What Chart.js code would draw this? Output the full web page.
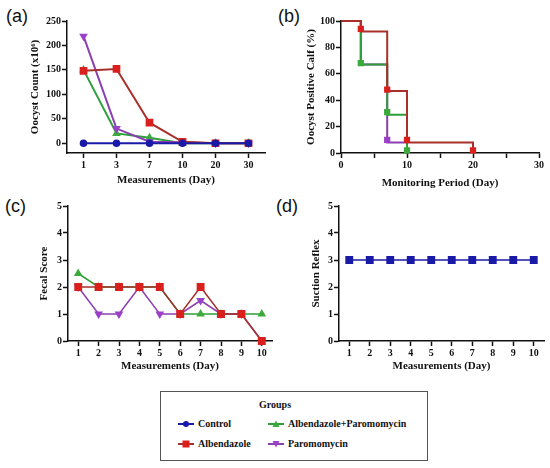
<!DOCTYPE html>
<html>
<head>
<meta charset="utf-8">
<script src="https://cdn.jsdelivr.net/npm/chart.js@4.4.1/dist/chart.umd.min.js"></script>
<style>
    body { margin: 0; background: #fff; width: 550px; height: 468px; position: relative; overflow: hidden; }
    .panel { position: absolute; }
    .tag { position: absolute; font-family: "Liberation Sans", Arial, sans-serif; font-size: 18px; line-height: 18px; color: #111; }
    #legend { position: absolute; left: 160px; top: 391px; width: 266px; height: 68px; border: 1.5px solid #555;
              font-family: "Liberation Serif", "Times New Roman", serif; font-weight: bold; font-size: 10px; color: #111; }
    #legend div { position: absolute; white-space: nowrap; line-height: 12px; }
    #legend svg { position: absolute; }
</style>
</head>
<body>

<div class="tag" style="left:6px;top:7px">(a)</div>
<div class="tag" style="left:278px;top:7px">(b)</div>
<div class="tag" style="left:5px;top:197px">(c)</div>
<div class="tag" style="left:276px;top:197px">(d)</div>

<div class="panel" style="left:25px;top:0;width:250px;height:191px"><canvas id="chartA"></canvas></div>
<div class="panel" style="left:301px;top:0;width:249px;height:194px"><canvas id="chartB"></canvas></div>
<div class="panel" style="left:34px;top:190px;width:246px;height:187px"><canvas id="chartC"></canvas></div>
<div class="panel" style="left:306px;top:190px;width:244px;height:187px"><canvas id="chartD"></canvas></div>

<!-- Gemensam legend -->
<div id="legend">
    <div style="left:98px;top:7px">Groups</div>
    <svg style="left:17px;top:27px" width="16" height="10"><line x1="0" y1="5" x2="16" y2="5" stroke="#1a1aa8" stroke-width="2"/><circle cx="8" cy="5" r="3" fill="#1a1aa8"/></svg>
    <div style="left:37px;top:26px">Control</div>
    <svg style="left:17px;top:47px" width="16" height="10"><line x1="0" y1="5" x2="16" y2="5" stroke="#a8302a" stroke-width="2"/><rect x="4.5" y="1.5" width="7" height="7" fill="#d9201c"/></svg>
    <div style="left:37px;top:46px">Albendazole</div>
    <svg style="left:107px;top:27px" width="16" height="10"><line x1="0" y1="5" x2="16" y2="5" stroke="#2e9e3a" stroke-width="2"/><polygon points="8,1.5 11.5,8 4.5,8" fill="#3aaa3a"/></svg>
    <div style="left:127px;top:26px">Albendazole+Paromomycin</div>
    <svg style="left:107px;top:47px" width="16" height="10"><line x1="0" y1="5" x2="16" y2="5" stroke="#8a3fb0" stroke-width="2"/><polygon points="4.5,2 11.5,2 8,8.5" fill="#9b40c8"/></svg>
    <div style="left:127px;top:46px">Paromomycin</div>
</div>

<script>
"use strict";

// (a) Oocystantal per mätdag
const daysA = ['1', '3', '7', '10', '20', '30'];
const controlA = [0, 0, 0, 0, 0, 0];
const albendazoleA = [148, 152, 42, 3, 0, 0];
const comboA = [150, 20, 11, 0, 0, 0];
const paromomycinA = [219, 30, 3, 2, 0, 0];
const majorTicksA = [0, 50, 100, 150, 200, 250];
const minorTicksA = [25, 75, 125, 175, 225];

// (b) Andel oocyst-positiva kalvar (trappstegskurva)
const stepDaysAlb = [0, 3, 7, 10, 20];
const albendazoleB = [100, 92, 47, 8, 0];
const stepDaysCombo = [0, 3, 7, 10];
const comboB = [100, 67, 29, 0];
const stepDaysParo = [0, 3, 7, 10];
const paromomycinB = [100, 67, 8, 0];
const albMarkDays = [3, 7, 10, 20];
const albMarkValues = [94, 48, 10, 2];
const comboMarkDays = [3, 7, 10];
const comboMarkValues = [68, 31, 2];
const paroMarkDays = [7];
const paroMarkValues = [10];
const majorTicksBX = [0, 10, 20, 30];
const minorTicksBX = [5, 15, 25];
const majorTicksBY = [0, 20, 40, 60, 80, 100];
const minorTicksBY = [10, 30, 50, 70, 90];

// (c) Fecal score och (d) sugreflex
const daysCD = ['1', '2', '3', '4', '5', '6', '7', '8', '9', '10'];
const albendazoleC = [2, 2, 2, 2, 2, 1, 2, 1, 1, 0];
const comboC = [2.5, 2, 2, 2, 2, 1, 1, 1, 1, 1];
const paromomycinC = [2, 1, 1, 2, 1, 1, 1.5, 1, 1, 0];
const controlD = [3, 3, 3, 3, 3, 3, 3, 3, 3, 3];
const scoreTicks = [0, 1, 2, 3, 4, 5];

// Färger
const blue = '#1a1aa8';
const red = '#d9201c';
const redLine = '#a8302a';
const green = '#3aaa3a';
const greenLine = '#2e9e3a';
const purple = '#9b40c8';
const purpleLine = '#8a3fb0';

const serif = "'Liberation Serif', 'Times New Roman', serif";

// Gemensamma axelinställningar, size = axelns bredd/höjd i pixlar
function axis(title, size, extra) {
    return Object.assign({
        title: { display: true, text: title, color: '#111', padding: 4,
                 font: { family: serif, size: 11, weight: 'bold' } },
        ticks: { color: '#111', padding: 1, autoSkip: false, maxRotation: 0,
                 font: { family: serif, size: 10, weight: 'bold' } },
        grid: { display: true, drawOnChartArea: false, drawTicks: true, offset: false,
                tickLength: 5, tickColor: '#111', tickWidth: 1.5 },
        border: { display: true, color: '#111', width: 1.5 },
        afterFit: (scale) => {
            if (scale.isHorizontal()) {
                scale.height = size;
            } else {
                scale.width = size;
            }
        }
    }, extra);
}

// Sätter egna tickar (större med etikett, mindre utan)
function fixedTicks(major, minor) {
    return (scale) => {
        scale.ticks = major.concat(minor).sort((a, b) => a - b).map(v => ({ value: v }));
    };
}

function tickLabel(major) {
    return (v) => major.includes(v) ? v : '';
}

function toPoints(xs, ys) {
    return xs.map((x, i) => ({ x: x, y: ys[i] }));
}

function baseOptions(padding, scales) {
    return {
        responsive: true,
        maintainAspectRatio: false,
        animation: false,
        layout: { padding: padding },
        plugins: { legend: { display: false }, tooltip: { enabled: false } },
        scales: scales
    };
}

function series(label, data, line, marker, style, radius, extra) {
    return Object.assign({
        label: label,
        data: data,
        borderColor: line,
        backgroundColor: marker,
        pointBackgroundColor: marker,
        pointBorderColor: marker,
        pointStyle: style,
        pointRadius: radius,
        borderWidth: 2,
        clip: false
    }, extra);
}

// Diagram (a)
new Chart(document.getElementById('chartA'), {
    type: 'line',
    data: {
        labels: daysA,
        datasets: [
            series('Control', controlA, blue, blue, 'circle', 2.8),
            series('Albendazole', albendazoleA, redLine, red, 'rect', 4),
            series('Paromomycin', paromomycinA, purpleLine, purple, 'triangle', 3, { pointRotation: 180 }),
            series('Albendazole+Paromomycin', comboA, greenLine, green, 'triangle', 3)
        ]
    },
    options: baseOptions({ top: 21, right: 10, left: 0, bottom: 0 }, {
        x: axis('Measurements (Day)', 38, { offset: true }),
        y: axis('Oocyst Count (x10⁶)', 42, {
            min: -20, max: 250,
            afterBuildTicks: fixedTicks(majorTicksA, minorTicksA),
            ticks: { color: '#111', padding: 1, font: { family: serif, size: 10, weight: 'bold' },
                     callback: tickLabel(majorTicksA) }
        })
    })
});

// Diagram (b)
new Chart(document.getElementById('chartB'), {
    type: 'line',
    data: {
        datasets: [
            series('Albendazole', toPoints(albMarkDays, albMarkValues), red, red, 'rect', 3, { showLine: false }),
            series('Albendazole+Paromomycin', toPoints(comboMarkDays, comboMarkValues), green, green, 'rect', 3, { showLine: false }),
            series('Paromomycin', toPoints(paroMarkDays, paroMarkValues), purple, purple, 'rect', 3, { showLine: false }),
            series('Albendazole', toPoints(stepDaysAlb, albendazoleB), redLine, redLine, 'circle', 0, { stepped: 'before' }),
            series('Albendazole+Paromomycin', toPoints(stepDaysCombo, comboB), greenLine, greenLine, 'circle', 0, { stepped: 'before' }),
            series('Paromomycin', toPoints(stepDaysParo, paromomycinB), purpleLine, purpleLine, 'circle', 0, { stepped: 'before' })
        ]
    },
    options: baseOptions({ top: 21, right: 11, left: 0, bottom: 0 }, {
        x: axis('Monitoring Period (Day)', 41, {
            type: 'linear', min: 0, max: 30,
            afterBuildTicks: fixedTicks(majorTicksBX, minorTicksBX),
            ticks: { color: '#111', padding: 1, maxRotation: 0, font: { family: serif, size: 10, weight: 'bold' },
                     callback: tickLabel(majorTicksBX) }
        }),
        y: axis('Oocyst Positive Calf (%)', 40, {
            min: 0, max: 100,
            afterBuildTicks: fixedTicks(majorTicksBY, minorTicksBY),
            ticks: { color: '#111', padding: 1, font: { family: serif, size: 10, weight: 'bold' },
                     callback: tickLabel(majorTicksBY) }
        })
    })
});

// Diagram (c)
new Chart(document.getElementById('chartC'), {
    type: 'line',
    data: {
        labels: daysCD,
        datasets: [
            series('Albendazole', albendazoleC, redLine, red, 'rect', 4.5, { borderWidth: 1.5 }),
            series('Paromomycin', paromomycinC, purpleLine, purple, 'triangle', 3.5, { pointRotation: 180, borderWidth: 1.5 }),
            series('Albendazole+Paromomycin', comboC, greenLine, green, 'triangle', 3.5, { borderWidth: 1.5 })
        ]
    },
    options: baseOptions({ top: 16, right: 8, left: 0, bottom: 0 }, {
        x: axis('Measurements (Day)', 36, { offset: true }),
        y: axis('Fecal Score', 34, {
            min: 0, max: 5,
            afterBuildTicks: fixedTicks(scoreTicks, [])
        })
    })
});

// Diagram (d)
new Chart(document.getElementById('chartD'), {
    type: 'line',
    data: {
        labels: daysCD,
        datasets: [
            series('Control', controlD, blue, blue, 'rect', 4.5, { borderWidth: 1.5 })
        ]
    },
    options: baseOptions({ top: 16, right: 6, left: 0, bottom: 0 }, {
        x: axis('Measurements (Day)', 36, { offset: true }),
        y: axis('Suction Reflex', 33, {
            min: 0, max: 5,
            afterBuildTicks: fixedTicks(scoreTicks, [])
        })
    })
});
</script>
</body>
</html>
